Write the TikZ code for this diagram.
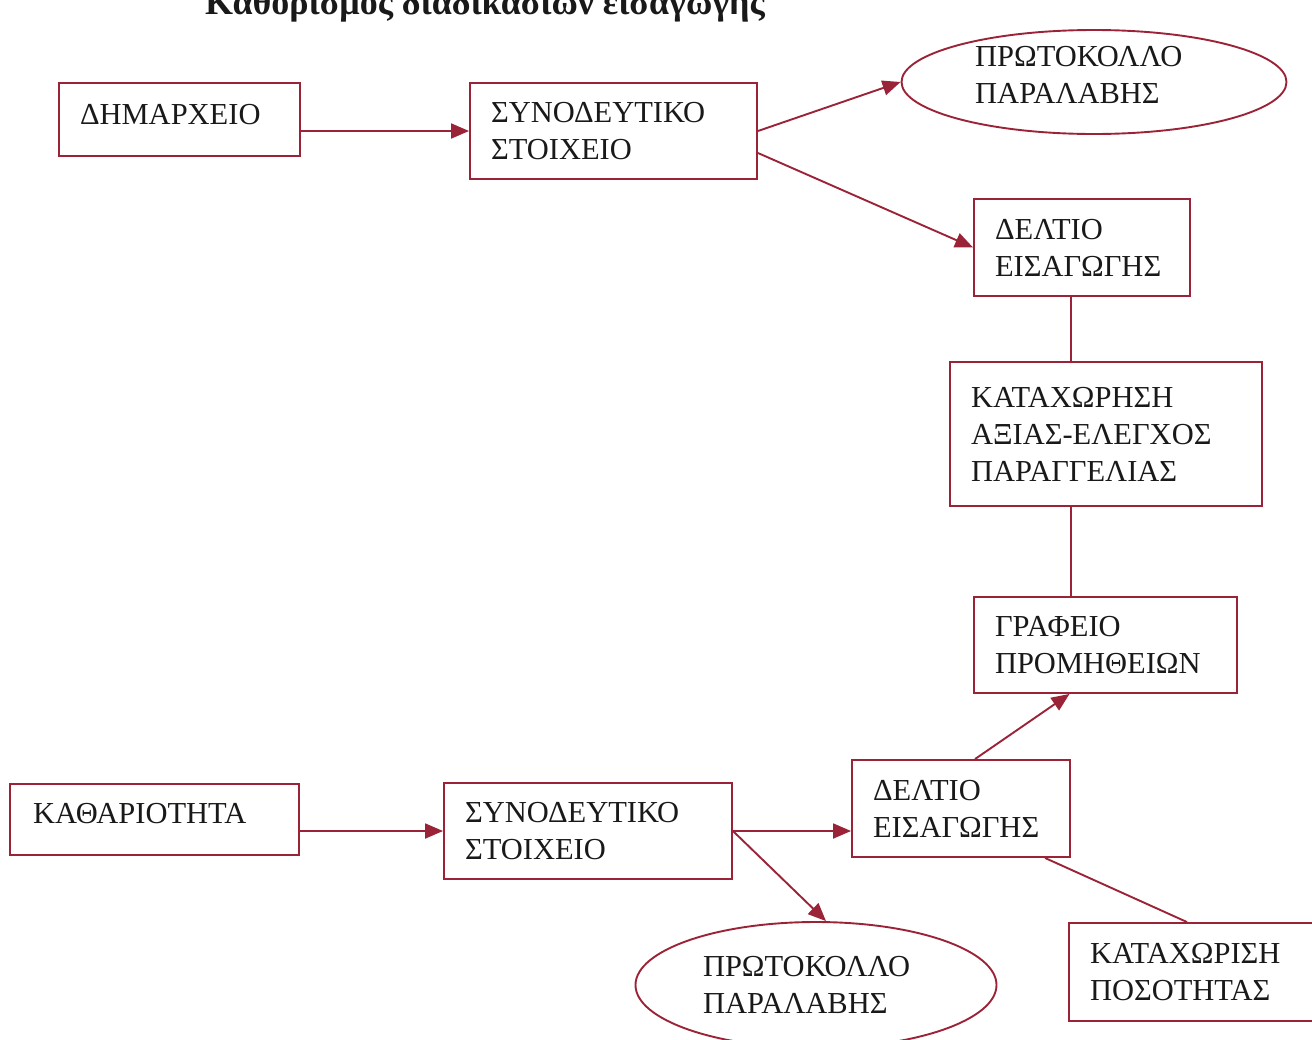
\documentclass[tikz,border=0pt]{standalone}
\usepackage{fontspec}
\setmainfont{Liberation Serif}
\usetikzlibrary{arrows.meta,shapes.geometric,calc}
\definecolor{frame}{RGB}{155,35,55}
\definecolor{ink}{RGB}{25,25,25}
\begin{document}
\begin{tikzpicture}[x=1pt,y=-1pt,
  txt/.style={font=\fontsize{30.5}{37}\selectfont, text=ink},
  box/.style={txt, draw=frame, line width=1.9pt, rectangle, inner sep=0pt, align=left},
  oval/.style={txt, draw=frame, line width=1.9pt, ellipse, inner sep=0pt, align=left},
  flow/.style={draw=frame, line width=1.9pt, -{Triangle[length=18pt,width=15pt]}},
  link/.style={draw=frame, line width=1.9pt}]
\useasboundingbox (0,0) rectangle (1312,1039);
\clip (0,0) rectangle (1312,1039);

% heading, running off the top edge of the page
\node[font=\bfseries\fontsize{36}{36}\selectfont, text=ink, anchor=base] (title) at (485,14)
  {Καθορισμός διαδικασιών εισαγωγής};

% upper branch
\node[box, minimum width=241pt, minimum height=73pt, text width=199pt, text depth=11pt] (dim) at (179.5,119.5) {ΔΗΜΑΡΧΕΙΟ};
\node[box, minimum width=287pt, minimum height=96pt, text width=245pt] (syn1) at (613.5,131) {ΣΥΝΟΔΕΥΤΙΚΟ\\ΣΤΟΙΧΕΙΟ};
\node[oval, minimum width=385pt, minimum height=104pt] (ell1) at (1094,82) {};
\node[txt, align=left, anchor=west, inner sep=0pt] (ell1text) at (975,75) {ΠΡΩΤΟΚΟΛΛΟ\\ΠΑΡΑΛΑΒΗΣ};
\node[box, minimum width=216pt, minimum height=97pt, text width=174pt] (del1) at (1082,247.5) {ΔΕΛΤΙΟ\\ΕΙΣΑΓΩΓΗΣ};
\node[box, minimum width=312pt, minimum height=144pt, text width=270pt] (kat) at (1106,434) {ΚΑΤΑΧΩΡΗΣΗ\\ΑΞΙΑΣ-ΕΛΕΓΧΟΣ\\ΠΑΡΑΓΓΕΛΙΑΣ};
\node[box, minimum width=263pt, minimum height=96pt, text width=221pt] (graf) at (1105.5,645) {ΓΡΑΦΕΙΟ\\ΠΡΟΜΗΘΕΙΩΝ};

% lower branch
\node[box, minimum width=289pt, minimum height=71pt, text width=243pt, text depth=13pt] (kath) at (154.5,819.5) {ΚΑΘΑΡΙΟΤΗΤΑ};
\node[box, minimum width=288pt, minimum height=96pt, text width=246pt] (syn2) at (588,831) {ΣΥΝΟΔΕΥΤΙΚΟ\\ΣΤΟΙΧΕΙΟ};
\node[box, minimum width=218pt, minimum height=97pt, text width=176pt] (del2) at (961,808.5) {ΔΕΛΤΙΟ\\ΕΙΣΑΓΩΓΗΣ};
\node[oval, minimum width=361pt, minimum height=126pt, text width=226pt] (ell2) at (816,985) {ΠΡΩΤΟΚΟΛΛΟ\\ΠΑΡΑΛΑΒΗΣ};
\node[box, minimum width=256pt, minimum height=98pt, text width=214pt] (kat2) at (1197,972) {ΚΑΤΑΧΩΡΙΣΗ\\ΠΟΣΟΤΗΤΑΣ};

% vertical spine on the right
\coordinate (spine) at (1071,0);

% connectors, upper branch
\draw[flow] (dim.east |- syn1.west) -- (syn1.west);
\draw[flow] (syn1.east) -- (ell1.west);
\draw[flow] ($(syn1.east)+(0,22)$) -- (del1.west);
\draw[link] (del1.south -| spine) -- (kat.north -| spine);
\draw[link] (kat.south -| spine) -- (graf.north -| spine);

% connectors, lower branch
\draw[flow] (kath.east |- syn2.west) -- (syn2.west);
\draw[flow] (syn2.east) -- (syn2.east -| del2.west);
\draw[flow] (syn2.east) -- ($(ell2.north)+(10,0)$);
\draw[flow] ($(del2.north)+(14,0)$) -- ($(graf.south)+(-36,0)$);
\draw[link] ($(kat2.north)+(-10,0)$) -- ($(del2.south)+(84,0)$);
\end{tikzpicture}
\end{document}
